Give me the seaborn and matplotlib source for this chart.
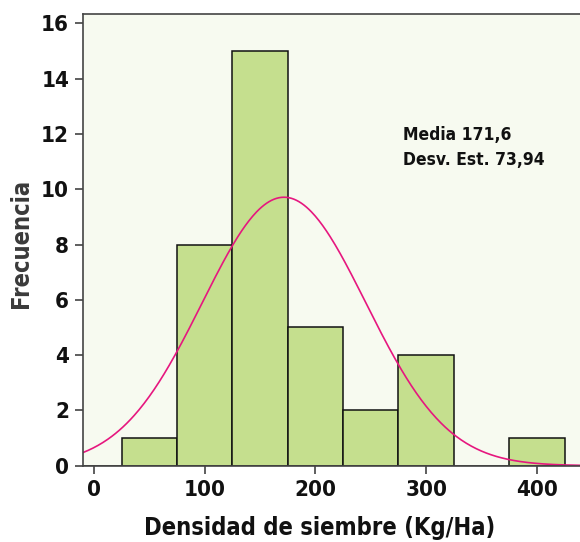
import numpy as np
import pandas as pd
import matplotlib
matplotlib.use("Agg")
import matplotlib.pyplot as plt
import seaborn as sns

# Data
bin_centers = [0, 50, 100, 150, 200, 250, 300, 350, 400]
counts = [0, 1, 8, 15, 5, 2, 4, 0, 1]
bin_width = 50
media = 171.6
desv = 73.94
x_ticks = [0, 100, 200, 300, 400]
y_ticks = [0, 2, 4, 6, 8, 10, 12, 14, 16]
xlabel = "Densidad de siembre (Kg/Ha)"
ylabel = "Frecuencia"
stats_text = "Media 171,6\nDesv. Est. 73,94"

sns.set_theme(style="white")
FONT = dict(family="DejaVu Sans", stretch="condensed", weight="bold")

fig = plt.figure(figsize=(5.8, 5.42), dpi=100)
ax_left, ax_bottom_px, ax_top_px = 83, 465.7, 14
ax_w = 580 - ax_left
ax_h = ax_bottom_px - ax_top_px
ax = fig.add_axes([ax_left/580, (542-ax_bottom_px)/542, ax_w/580, ax_h/542])
ax.set_facecolor("#f7faf0")

df = pd.DataFrame({"x": bin_centers, "n": counts})
sns.histplot(data=df, x="x", weights="n", binwidth=bin_width,
             binrange=(bin_centers[0] - bin_width/2, bin_centers[-1] + bin_width/2),
             color="#c5df8e", edgecolor="#111111", linewidth=1.1, alpha=1, ax=ax)

N = sum(counts)
xs = np.linspace(-10, 440, 400)
ys = N * bin_width * np.exp(-0.5*((xs-media)/desv)**2) / (desv*np.sqrt(2*np.pi))
sns.lineplot(x=xs, y=ys, color="#e6177f", linewidth=1.2, ax=ax)

ax.set_xlim(-10, 439)
ax.set_ylim(0, 16.34)
ax.set_xticks(x_ticks)
ax.set_yticks(y_ticks)
ax.tick_params(axis="both", direction="out", length=6, width=1.1, color="#333333",
               pad=4, bottom=True, left=True, labelsize=16, labelcolor="#111111")
for lab in ax.get_xticklabels() + ax.get_yticklabels():
    lab.set_fontfamily(FONT["family"]); lab.set_fontstretch("condensed"); lab.set_fontweight("bold")

for s in ["left", "bottom", "top"]:
    ax.spines[s].set_visible(True)
    ax.spines[s].set_color("#444444")
    ax.spines[s].set_linewidth(1.2)
ax.spines["right"].set_visible(False)

ax.set_xlabel(xlabel, fontsize=17, color="#111111", **FONT)
ax.set_ylabel(ylabel, fontsize=17, color="#3a3a3a", **FONT)
ax.xaxis.set_label_coords((320 - ax_left)/ax_w, -(516 - ax_bottom_px)/ax_h)
ax.yaxis.set_label_coords((33 - ax_left)/ax_w, (ax_bottom_px - 243)/ax_h)
ax.text(279, 12.3, stats_text, fontsize=12.5, color="#111111", va="top", ha="left",
        linespacing=1.55, **FONT)

fig.savefig("out.png", dpi=100)
